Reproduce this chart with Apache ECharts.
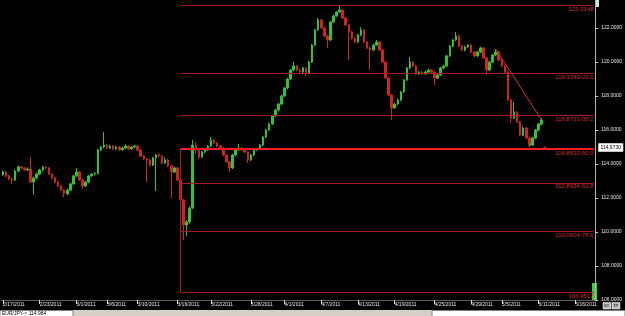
<!DOCTYPE html>
<html><head><meta charset="utf-8">
<script src="https://cdn.jsdelivr.net/npm/echarts@6/dist/echarts.min.js"></script>
<style>html,body{margin:0;padding:0;background:#000;overflow:hidden}#c{width:625px;height:316px;}</style>
</head><body><div id="c"></div>
<script>
const slotCount = 194;
const tickIdx = [0, 12, 24, 34, 44, 57, 68, 81, 92, 104, 116, 128, 141, 153, 163, 175, 187];
const tickLabels = ["2/17/2011","2/23/2011","3/1/2011","3/6/2011","3/10/2011","3/16/2011","3/22/2011","3/28/2011","4/1/2011","4/7/2011","4/13/2011","4/19/2011","4/25/2011","4/29/2011","5/5/2011","5/11/2011","5/16/2011"];
// [open, close, low, high]
const candles = [
[113.36,113.53,113.30,113.62],[113.53,113.30,113.22,113.60],[113.30,113.12,113.05,113.38],[113.12,113.06,112.83,113.20],
[113.06,113.59,113.00,113.66],[113.59,113.83,113.52,113.92],[113.83,113.77,113.70,113.90],[113.77,113.65,113.58,113.82],
[113.65,113.71,113.60,113.80],[113.71,112.94,112.88,114.40],[112.94,113.18,112.20,113.25],[113.18,113.41,113.10,113.50],
[113.41,113.65,113.35,113.72],[113.65,113.83,113.58,113.90],[113.83,113.77,113.70,113.88],[113.77,113.41,113.35,113.82],
[113.41,113.18,113.10,113.46],[113.18,112.94,112.88,113.24],[112.94,112.71,112.64,113.00],[112.71,112.47,112.40,112.78],
[112.47,112.24,112.06,112.52],[112.24,112.47,112.18,112.55],[112.47,112.83,112.40,112.90],[112.83,113.30,112.78,113.36],
[113.30,113.53,113.24,113.77],[113.53,113.06,113.00,113.58],[113.06,112.71,112.53,113.12],[112.71,112.94,112.65,113.00],
[112.94,113.30,112.88,113.36],[113.30,113.41,113.24,113.48],[113.41,113.44,113.34,113.52],[113.44,114.83,113.38,114.90],
[114.83,115.00,114.76,115.08],[115.00,115.12,114.94,115.89],[115.12,114.94,114.88,115.20],[114.94,115.06,114.88,115.14],
[115.06,114.89,114.82,115.12],[114.89,115.00,114.84,115.08],[115.00,114.83,114.76,115.06],[114.83,114.94,114.78,115.00],
[114.94,115.06,114.88,115.18],[115.06,114.89,114.82,115.12],[114.89,115.00,114.84,115.08],[115.00,115.06,114.94,115.12],
[115.06,114.83,114.76,115.10],[114.83,114.47,114.40,114.88],[114.47,114.30,114.24,114.52],[114.30,114.24,112.94,114.36],
[114.24,113.94,113.86,114.30],[113.94,114.36,113.88,114.42],[114.36,114.53,112.41,114.60],[114.53,114.47,114.40,114.65],
[114.47,114.06,114.00,114.52],[114.06,114.24,114.00,114.40],[114.24,113.89,113.82,114.30],[113.89,113.53,112.00,113.95],
[113.53,113.77,113.46,113.84],[113.77,113.06,113.00,113.82],[113.06,111.89,111.80,113.12],[111.89,110.41,109.53,111.95],
[110.41,110.59,109.77,110.70],[110.59,111.41,110.50,111.50],[111.41,115.12,111.35,115.41],[115.12,114.83,114.60,115.30],
[114.83,114.41,114.30,114.90],[114.41,114.71,114.36,114.80],[114.71,114.83,114.64,114.90],[114.83,115.06,114.76,115.12],
[115.06,115.41,115.00,115.59],[115.41,115.24,115.18,115.48],[115.24,115.06,115.00,115.30],[115.06,114.94,114.88,115.12],
[114.94,114.53,114.46,115.00],[114.53,114.12,114.06,114.58],[114.12,113.77,113.53,114.18],[113.77,114.53,113.70,114.60],
[114.53,114.83,114.46,114.90],[114.83,114.94,114.78,115.18],[114.94,114.83,114.76,115.00],[114.83,114.71,114.64,114.88],
[114.71,114.24,114.06,114.76],[114.24,114.53,114.18,114.60],[114.53,114.83,114.46,114.90],[114.83,114.89,114.76,114.96],
[114.89,115.12,114.82,115.18],[115.12,115.59,115.06,115.66],[115.59,116.00,115.52,116.08],[116.00,116.36,115.94,116.44],
[116.36,116.83,116.30,116.90],[116.83,117.18,116.76,117.24],[117.18,117.53,117.10,117.60],[117.53,118.00,117.46,118.08],
[118.00,118.47,117.94,118.54],[118.47,119.00,118.40,119.06],[119.00,119.53,118.94,119.60],[119.53,119.77,119.46,120.00],
[119.77,119.53,119.46,119.84],[119.53,119.41,119.34,119.60],[119.41,119.65,119.36,119.72],[119.65,119.36,119.18,119.70],
[119.36,120.00,119.30,120.08],[120.00,121.00,119.94,121.06],[121.00,121.89,120.94,121.96],[121.89,122.47,121.82,122.59],
[122.47,122.00,121.94,122.54],[122.00,121.53,121.46,122.06],[121.53,121.30,120.83,121.60],[121.30,122.36,121.24,122.42],
[122.36,122.71,122.30,122.78],[122.71,122.94,122.66,123.00],[122.94,123.06,122.88,123.30],[123.06,122.59,122.52,123.12],
[122.59,122.18,122.10,122.66],[122.18,121.77,120.12,122.24],[121.77,121.41,121.34,121.84],[121.41,121.18,121.10,121.46],
[121.18,121.59,121.12,121.66],[121.59,121.89,121.52,122.06],[121.89,121.18,121.12,121.94],[121.18,120.83,120.76,121.24],
[120.83,120.71,119.53,120.90],[120.71,121.00,120.64,121.06],[121.00,121.18,120.94,121.30],[121.18,120.71,120.64,121.24],
[120.71,120.00,119.94,120.76],[120.00,119.06,119.00,120.06],[119.06,118.06,118.00,119.12],[118.06,117.30,116.59,118.12],
[117.30,117.53,117.24,117.60],[117.53,117.77,117.46,117.84],[117.77,118.24,117.70,118.30],[118.24,118.94,118.18,119.00],
[118.94,119.65,118.88,119.72],[119.65,120.00,119.58,120.30],[120.00,119.77,119.70,120.06],[119.77,119.30,119.24,119.84],
[119.30,119.41,119.24,119.48],[119.41,119.30,119.24,119.46],[119.30,119.41,119.24,119.50],[119.41,119.53,119.36,119.60],
[119.53,119.41,119.34,119.58],[119.41,119.06,118.65,119.46],[119.06,119.24,119.00,119.30],[119.24,119.65,119.18,119.72],
[119.65,119.77,119.58,119.84],[119.77,120.36,119.70,120.42],[120.36,120.94,120.30,121.00],[120.94,121.30,120.88,121.36],
[121.30,121.53,121.24,121.77],[121.53,120.94,120.88,121.60],[120.94,120.71,120.64,121.00],[120.71,120.89,120.64,120.96],
[120.89,121.00,120.82,121.06],[121.00,120.59,120.52,121.06],[120.59,120.36,120.30,120.64],[120.36,120.59,120.30,120.66],
[120.59,120.83,120.52,120.90],[120.83,120.24,120.18,120.88],[120.24,119.53,119.24,120.30],[119.53,120.00,119.46,120.06],
[120.00,120.41,119.94,120.48],[120.41,120.59,120.34,120.77],[120.59,120.12,120.06,120.66],[120.12,119.77,119.70,120.18],
[119.77,119.41,119.34,119.84],[119.41,117.77,117.70,119.48],[117.77,116.71,116.40,117.84],[116.71,117.06,116.64,117.65],
[117.06,116.47,116.40,117.12],[116.47,115.71,115.64,116.54],[115.71,116.12,115.64,116.20],[116.12,115.53,115.46,116.18],
[115.53,115.12,115.00,115.60],[115.12,115.53,115.06,115.60],[115.53,116.00,115.46,116.06],[116.00,116.36,115.94,116.42],
[116.36,116.59,116.30,116.71],[114.98,114.97,114.94,115.03]
];
const fibLevels = [123.3148, 119.3349, 116.8731, 114.8833, 112.8934, 110.0604, 106.4517];
const fibLabels = ["123.3148", "119.3349-23.6", "116.8731-38.2", "114.8833-50.0", "112.8934-61.8", "110.0604-78.6", "106.4517"];
const fibStartIdx = 58;
const lastPrice = 114.9730;
const redTrend = [[161, 120.77], [176, 116.59]];
const greenTrend = [[172, 115.00], [176, 116.47]];
const statusText = "EUR/JPY-> 114.984";

const cats = Array.from({length: slotCount}, (_, i) => String(i));
const endIdx = slotCount - 1;
const fibColor = '#a81c1c';
const fibLines = fibLevels.map((lv, k) => {
  const mid = k === 3;
  return [
    {coord: [fibStartIdx, lv],
     lineStyle: {color: mid ? '#ff1e1e' : fibColor, width: mid ? 2 : 1, type: 'solid', opacity: 1},
     label: {show: true, position: 'insideEndBottom', formatter: fibLabels[k], color: '#e02626', fontSize: 6, distance: [0, 1], fontFamily: 'Liberation Sans'}},
    {coord: [endIdx, lv]}
  ];
});
const extraLines = [
  [{coord: [fibStartIdx, fibLevels[3]], lineStyle: {color: fibColor, width: 1, type: 'solid'}, label: {show: false}},
   {coord: [fibStartIdx, fibLevels[6]]}],
  [{coord: redTrend[0], lineStyle: {color: '#e02c2c', width: 1, type: 'solid'}, label: {show: false}}, {coord: redTrend[1]}],
  [{coord: greenTrend[0], lineStyle: {color: '#34c034', width: 1, type: 'solid'}, label: {show: false}}, {coord: greenTrend[1]}]
];

const chart = echarts.init(document.getElementById('c'), null, {renderer: 'canvas'});
chart.setOption({
  backgroundColor: '#000',
  animation: false,
  grid: {left: 0, right: 28, top: 0, bottom: 16, containLabel: false},
  xAxis: {
    type: 'category', data: cats, boundaryGap: true,
    axisLine: {show: true, lineStyle: {color: '#5a5a5a'}},
    axisTick: {show: true, alignWithLabel: true, length: 4, lineStyle: {color: '#ddd'}, interval: (i) => tickIdx.includes(i)},
    axisLabel: {show: true, interval: (i) => tickIdx.includes(i), formatter: (v, i) => tickLabels[tickIdx.indexOf(i)] || '',
      color: '#e6e6e6', fontSize: 5, align: 'left', margin: 2, fontFamily: 'Liberation Sans', hideOverlap: false},
    splitLine: {show: false}
  },
  yAxis: {
    type: 'value', position: 'right', min: 106, max: 123.65, interval: 2, scale: true,
    axisLine: {show: true, lineStyle: {color: '#b0b0b0'}},
    axisTick: {show: true, length: 3, lineStyle: {color: '#ccc'}},
    axisLabel: {show: true, color: '#e6e6e6', fontSize: 5, margin: 6, showMaxLabel: false, showMinLabel: true, hideOverlap: false,
      formatter: (v) => v.toFixed(4), fontFamily: 'Liberation Sans'},
    splitLine: {show: false}
  },
  series: [{
    type: 'candlestick',
    data: candles,
    barWidth: 2,
    itemStyle: {color: '#34c234', color0: '#d02420', borderColor: '#34c234', borderColor0: '#d02420', borderWidth: 1},
    markLine: {silent: true, symbol: ['none', 'none'], animation: false, data: fibLines.concat(extraLines)}
  }],
  graphic: [
    {type: 'rect', shape: {x: 0, y: 310, width: 625, height: 6}, style: {fill: '#d4d0c8'}, silent: true},
    {type: 'rect', shape: {x: 0, y: 310.5, width: 73, height: 6}, style: {fill: '#fff', stroke: '#808080', lineWidth: 1}, silent: true},
    {type: 'rect', shape: {x: 432, y: 310.5, width: 193, height: 6}, style: {fill: '#fff', stroke: '#808080', lineWidth: 1}, silent: true},
    {type: 'text', left: 2, top: 311, style: {text: statusText, fill: '#000', font: '5px "Liberation Sans"'}, silent: true},
    {type: 'rect', shape: {x: 603, y: 302.5, width: 8, height: 6.5}, style: {fill: '#bdbdbd', stroke: '#fff', lineWidth: 0.5}, silent: true},
    {type: 'rect', shape: {x: 612, y: 302.5, width: 8, height: 6.5}, style: {fill: '#bdbdbd', stroke: '#fff', lineWidth: 0.5}, silent: true},
    {type: 'text', left: 604, top: 303.5, style: {text: 'ST', fill: '#000', font: '4px "Liberation Sans"'}, silent: true},
    {type: 'text', left: 613, top: 303.5, style: {text: 'TP', fill: '#000', font: '4px "Liberation Sans"'}, silent: true},
    {type: 'rect', shape: {x: 592, y: 283, width: 5, height: 17}, style: {fill: '#3ad13a'}, silent: true},
    {type: 'rect', shape: {x: 595, y: 0, width: 4, height: 7}, style: {fill: '#cfe8cf'}, silent: true}
  ]
});
// current price tag placed through the y scale
const py = chart.convertToPixel({yAxisIndex: 0}, lastPrice);
chart.setOption({graphic: [{
  id: 'priceTag', type: 'text', left: 598, top: Math.round(py) - 4, z: 100,
  style: {text: lastPrice.toFixed(4), fill: '#000', backgroundColor: '#fff', padding: [2, 2, 1, 2],
    font: '5px "Liberation Sans"', borderColor: '#888', borderWidth: 0.5}
}]});
</script>
</body></html>
